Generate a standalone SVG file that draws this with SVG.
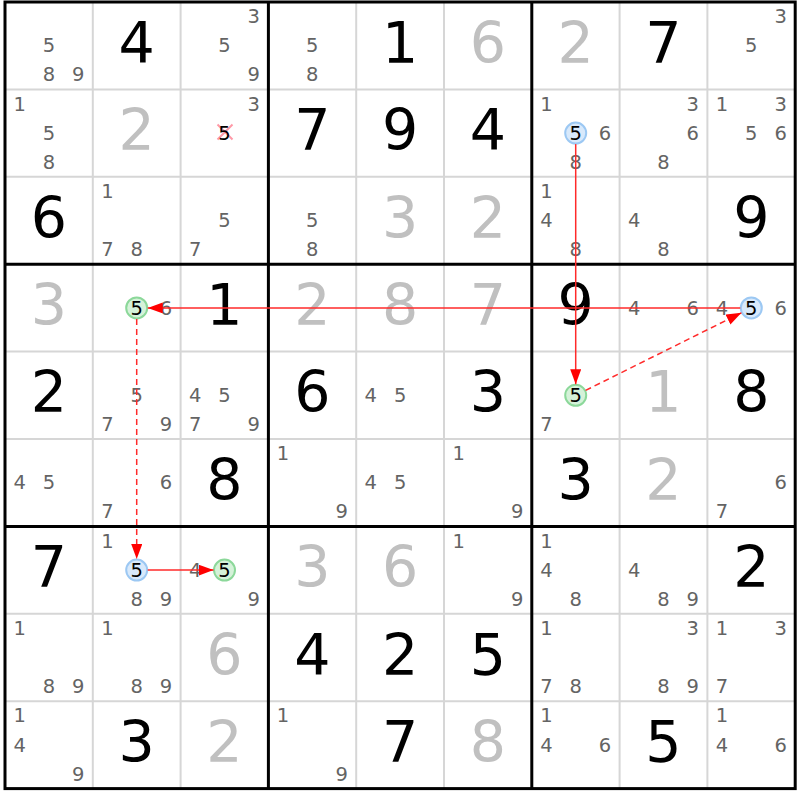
<svg xmlns="http://www.w3.org/2000/svg" width="800" height="800" viewBox="0 0 800 800">
<style>
text{font-family:"DejaVu Sans","Noto Sans",sans-serif;text-anchor:middle}
.g{font-size:57px;fill:#000}
.s{font-size:57px;fill:#c0c0c0}
.c{font-size:19.5px;fill:#646464}
.h{font-size:19.5px;fill:#000}
.thin{stroke:#d6d6d6;stroke-width:2;fill:none}
.thick{stroke:#000;stroke-width:3;fill:none}
.hb{fill:#d8e9fb;stroke:#9cc8f3;stroke-width:2}
.hg{fill:#d5f2d9;stroke:#8cd89a;stroke-width:2}
.ln{stroke:#ff2a2a;stroke-width:1.5;fill:none;marker-end:url(#arr)}
.dash{stroke-dasharray:6 4}
.x{stroke:#ff9aa8;stroke-width:2}
</style>
<defs>
<marker id="arr" markerUnits="userSpaceOnUse" markerWidth="16" markerHeight="12" refX="15" refY="5.5" orient="auto">
<path d="M0,0 L15,5.5 L0,11 z" fill="#ff0000"/>
</marker>
</defs>
<rect width="800" height="800" fill="#fff"/>
<g id="grid">
<path class="thin" d="M92.8,2V788.6M180.6,2V788.6M356.2,2V788.6M444,2V788.6M619.6,2V788.6M707.4,2V788.6M5,89.4H795.2M5,176.8H795.2M5,351.6H795.2M5,439H795.2M5,613.8H795.2M5,701.2H795.2"/>
<path class="thick" d="M268.4,2V788.6M531.8,2V788.6M5,264.2H795.2M5,526.4H795.2"/>
<rect class="thick" x="5" y="2" width="790.2" height="786.6"/>
</g>
<g id="r0c0"><text class="c" x="48.9" y="52.3">5</text><text class="c" x="48.9" y="81.4">8</text><text class="c" x="78.2" y="81.4">9</text></g>
<g id="r0c1"><text class="g" x="136.7" y="62.7">4</text></g>
<g id="r0c2"><text class="c" x="253.8" y="23.2">3</text><text class="c" x="224.5" y="52.3">5</text><text class="c" x="253.8" y="81.4">9</text></g>
<g id="r0c3"><text class="c" x="312.3" y="52.3">5</text><text class="c" x="312.3" y="81.4">8</text></g>
<g id="r0c4"><text class="g" x="400.1" y="62.7">1</text></g>
<g id="r0c5"><text class="s" x="487.9" y="62.7">6</text></g>
<g id="r0c6"><text class="s" x="575.7" y="62.7">2</text></g>
<g id="r0c7"><text class="g" x="663.5" y="62.7">7</text></g>
<g id="r0c8"><text class="c" x="780.6" y="23.2">3</text><text class="c" x="751.3" y="52.3">5</text></g>

<g id="r1c0"><text class="c" x="19.6" y="110.6">1</text><text class="c" x="48.9" y="139.7">5</text><text class="c" x="48.9" y="168.8">8</text></g>
<g id="r1c1"><text class="s" x="136.7" y="150.1">2</text></g>
<g id="r1c2"><text class="c" x="253.8" y="110.6">3</text><path class="x" d="M217.5,124.5L232.5,139.5M232.5,124.5L217.5,139.5"/><text class="h" x="224.5" y="139.7">5</text></g>
<g id="r1c3"><text class="g" x="312.3" y="150.1">7</text></g>
<g id="r1c4"><text class="g" x="400.1" y="150.1">9</text></g>
<g id="r1c5"><text class="g" x="487.9" y="150.1">4</text></g>
<g id="r1c6"><text class="c" x="546.4" y="110.6">1</text><circle class="hb" cx="575.7" cy="133.1" r="10.5"/><text class="h" x="575.7" y="139.7">5</text><text class="c" x="605" y="139.7">6</text><text class="c" x="575.7" y="168.8">8</text></g>
<g id="r1c7"><text class="c" x="692.8" y="110.6">3</text><text class="c" x="692.8" y="139.7">6</text><text class="c" x="663.5" y="168.8">8</text></g>
<g id="r1c8"><text class="c" x="722" y="110.6">1</text><text class="c" x="780.6" y="110.6">3</text><text class="c" x="751.3" y="139.7">5</text><text class="c" x="780.6" y="139.7">6</text></g>

<g id="r2c0"><text class="g" x="48.9" y="237.5">6</text></g>
<g id="r2c1"><text class="c" x="107.4" y="198">1</text><text class="c" x="107.4" y="256.2">7</text><text class="c" x="136.7" y="256.2">8</text></g>
<g id="r2c2"><text class="c" x="224.5" y="227.1">5</text><text class="c" x="195.2" y="256.2">7</text></g>
<g id="r2c3"><text class="c" x="312.3" y="227.1">5</text><text class="c" x="312.3" y="256.2">8</text></g>
<g id="r2c4"><text class="s" x="400.1" y="237.5">3</text></g>
<g id="r2c5"><text class="s" x="487.9" y="237.5">2</text></g>
<g id="r2c6"><text class="c" x="546.4" y="198">1</text><text class="c" x="546.4" y="227.1">4</text><text class="c" x="575.7" y="256.2">8</text></g>
<g id="r2c7"><text class="c" x="634.2" y="227.1">4</text><text class="c" x="663.5" y="256.2">8</text></g>
<g id="r2c8"><text class="g" x="751.3" y="237.5">9</text></g>

<g id="r3c0"><text class="s" x="48.9" y="324.9">3</text></g>
<g id="r3c1"><circle class="hg" cx="136.7" cy="307.9" r="10.5"/><text class="h" x="136.7" y="314.5">5</text><text class="c" x="166" y="314.5">6</text></g>
<g id="r3c2"><text class="g" x="224.5" y="324.9">1</text></g>
<g id="r3c3"><text class="s" x="312.3" y="324.9">2</text></g>
<g id="r3c4"><text class="s" x="400.1" y="324.9">8</text></g>
<g id="r3c5"><text class="s" x="487.9" y="324.9">7</text></g>
<g id="r3c6"><text class="g" x="575.7" y="324.9">9</text></g>
<g id="r3c7"><text class="c" x="634.2" y="314.5">4</text><text class="c" x="692.8" y="314.5">6</text></g>
<g id="r3c8"><text class="c" x="722" y="314.5">4</text><circle class="hb" cx="751.3" cy="307.9" r="10.5"/><text class="h" x="751.3" y="314.5">5</text><text class="c" x="780.6" y="314.5">6</text></g>

<g id="r4c0"><text class="g" x="48.9" y="412.3">2</text></g>
<g id="r4c1"><text class="c" x="136.7" y="401.9">5</text><text class="c" x="107.4" y="431">7</text><text class="c" x="166" y="431">9</text></g>
<g id="r4c2"><text class="c" x="195.2" y="401.9">4</text><text class="c" x="224.5" y="401.9">5</text><text class="c" x="195.2" y="431">7</text><text class="c" x="253.8" y="431">9</text></g>
<g id="r4c3"><text class="g" x="312.3" y="412.3">6</text></g>
<g id="r4c4"><text class="c" x="370.8" y="401.9">4</text><text class="c" x="400.1" y="401.9">5</text></g>
<g id="r4c5"><text class="g" x="487.9" y="412.3">3</text></g>
<g id="r4c6"><circle class="hg" cx="575.7" cy="395.3" r="10.5"/><text class="h" x="575.7" y="401.9">5</text><text class="c" x="546.4" y="431">7</text></g>
<g id="r4c7"><text class="s" x="663.5" y="412.3">1</text></g>
<g id="r4c8"><text class="g" x="751.3" y="412.3">8</text></g>

<g id="r5c0"><text class="c" x="19.6" y="489.3">4</text><text class="c" x="48.9" y="489.3">5</text></g>
<g id="r5c1"><text class="c" x="166" y="489.3">6</text><text class="c" x="107.4" y="518.4">7</text></g>
<g id="r5c2"><text class="g" x="224.5" y="499.7">8</text></g>
<g id="r5c3"><text class="c" x="283" y="460.2">1</text><text class="c" x="341.6" y="518.4">9</text></g>
<g id="r5c4"><text class="c" x="370.8" y="489.3">4</text><text class="c" x="400.1" y="489.3">5</text></g>
<g id="r5c5"><text class="c" x="458.6" y="460.2">1</text><text class="c" x="517.2" y="518.4">9</text></g>
<g id="r5c6"><text class="g" x="575.7" y="499.7">3</text></g>
<g id="r5c7"><text class="s" x="663.5" y="499.7">2</text></g>
<g id="r5c8"><text class="c" x="780.6" y="489.3">6</text><text class="c" x="722" y="518.4">7</text></g>

<g id="r6c0"><text class="g" x="48.9" y="587.1">7</text></g>
<g id="r6c1"><text class="c" x="107.4" y="547.6">1</text><circle class="hb" cx="136.7" cy="570.1" r="10.5"/><text class="h" x="136.7" y="576.7">5</text><text class="c" x="136.7" y="605.8">8</text><text class="c" x="166" y="605.8">9</text></g>
<g id="r6c2"><text class="c" x="195.2" y="576.7">4</text><circle class="hg" cx="224.5" cy="570.1" r="10.5"/><text class="h" x="224.5" y="576.7">5</text><text class="c" x="253.8" y="605.8">9</text></g>
<g id="r6c3"><text class="s" x="312.3" y="587.1">3</text></g>
<g id="r6c4"><text class="s" x="400.1" y="587.1">6</text></g>
<g id="r6c5"><text class="c" x="458.6" y="547.6">1</text><text class="c" x="517.2" y="605.8">9</text></g>
<g id="r6c6"><text class="c" x="546.4" y="547.6">1</text><text class="c" x="546.4" y="576.7">4</text><text class="c" x="575.7" y="605.8">8</text></g>
<g id="r6c7"><text class="c" x="634.2" y="576.7">4</text><text class="c" x="663.5" y="605.8">8</text><text class="c" x="692.8" y="605.8">9</text></g>
<g id="r6c8"><text class="g" x="751.3" y="587.1">2</text></g>

<g id="r7c0"><text class="c" x="19.6" y="635">1</text><text class="c" x="48.9" y="693.2">8</text><text class="c" x="78.2" y="693.2">9</text></g>
<g id="r7c1"><text class="c" x="107.4" y="635">1</text><text class="c" x="136.7" y="693.2">8</text><text class="c" x="166" y="693.2">9</text></g>
<g id="r7c2"><text class="s" x="224.5" y="674.5">6</text></g>
<g id="r7c3"><text class="g" x="312.3" y="674.5">4</text></g>
<g id="r7c4"><text class="g" x="400.1" y="674.5">2</text></g>
<g id="r7c5"><text class="g" x="487.9" y="674.5">5</text></g>
<g id="r7c6"><text class="c" x="546.4" y="635">1</text><text class="c" x="546.4" y="693.2">7</text><text class="c" x="575.7" y="693.2">8</text></g>
<g id="r7c7"><text class="c" x="692.8" y="635">3</text><text class="c" x="663.5" y="693.2">8</text><text class="c" x="692.8" y="693.2">9</text></g>
<g id="r7c8"><text class="c" x="722" y="635">1</text><text class="c" x="780.6" y="635">3</text><text class="c" x="722" y="693.2">7</text></g>

<g id="r8c0"><text class="c" x="19.6" y="722.4">1</text><text class="c" x="19.6" y="751.5">4</text><text class="c" x="78.2" y="780.6">9</text></g>
<g id="r8c1"><text class="g" x="136.7" y="761.9">3</text></g>
<g id="r8c2"><text class="s" x="224.5" y="761.9">2</text></g>
<g id="r8c3"><text class="c" x="283" y="722.4">1</text><text class="c" x="341.6" y="780.6">9</text></g>
<g id="r8c4"><text class="g" x="400.1" y="761.9">7</text></g>
<g id="r8c5"><text class="s" x="487.9" y="761.9">8</text></g>
<g id="r8c6"><text class="c" x="546.4" y="722.4">1</text><text class="c" x="546.4" y="751.5">4</text><text class="c" x="605" y="751.5">6</text></g>
<g id="r8c7"><text class="g" x="663.5" y="761.9">5</text></g>
<g id="r8c8"><text class="c" x="722" y="722.4">1</text><text class="c" x="722" y="751.5">4</text><text class="c" x="780.6" y="751.5">6</text></g>

<g id="connectors">
<line class="ln" x1="575.7" y1="144.1" x2="575.7" y2="384.3"/>
<line class="ln" x1="740.3" y1="307.9" x2="147.7" y2="307.9"/>
<line class="ln dash" x1="136.7" y1="318.9" x2="136.7" y2="559.1"/>
<line class="ln" x1="147.7" y1="570.1" x2="213.5" y2="570.1"/>
<line class="ln dash" x1="585.6" y1="390.4" x2="741.4" y2="312.8"/>
</g>
</svg>
